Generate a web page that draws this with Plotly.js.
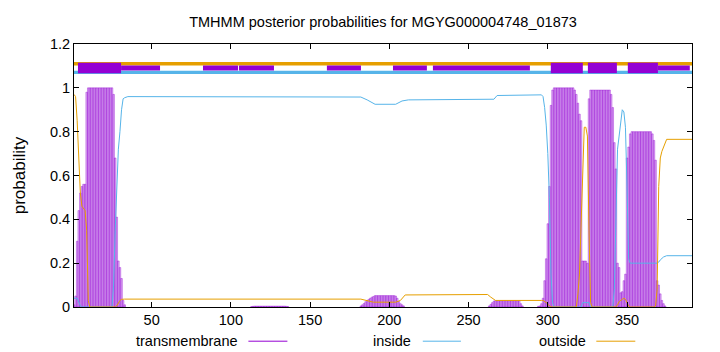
<!DOCTYPE html>
<html><head><meta charset="utf-8">
<script src="https://cdn.plot.ly/plotly-3.0.1.min.js"></script>
<style>html,body{margin:0;padding:0;background:#fff}#chart{width:720px;height:352px}</style>
</head><body><div id="chart"></div>
<script>
const titleText = "TMHMM posterior probabilities for MGYG000004748_01873";
const yAxisLabel = "probability";
const legendNames = ["transmembrane", "inside", "outside"];
const xRange = [1, 391];
const xTickVals = [50, 100, 150, 200, 250, 300, 350];
const yTickVals = [0, 0.2, 0.4, 0.6, 0.8, 1, 1.2];

// transmembrane posterior (impulses), per residue, in regions where it is non-zero
const tmRegionStart = [1, 113, 182, 263, 294];
const tmRegion1 = [0.01,0.05,0.30,0.44,0.52,0.55,0.56,0.56,0.98,1,1,1,1,1,1,1,1,1,1,1,1,1,1,1,1,0.97,0.68,0.41,0.21,0.18,0.13,0.03,0.01];
const tmRegion2 = [0.002,0.003,0.004,0.004,0.004,0.004,0.004,0.004,0.004,0.004,0.004,0.004,0.004,0.004,0.004,0.004,0.004,0.004,0.004,0.004,0.004,0.004,0.003,0.002];
const tmRegion3 = [0.005,0.01,0.016,0.024,0.03,0.035,0.04,0.045,0.048,0.052,0.052,0.052,0.052,0.052,0.052,0.052,0.052,0.052,0.052,0.052,0.052,0.052,0.05,0.04,0.025,0.015,0.01,0.005];
const tmRegion4 = [0.005,0.012,0.02,0.027,0.029,0.029,0.029,0.029,0.029,0.029,0.029,0.029,0.029,0.029,0.029,0.029,0.029,0.029,0.029,0.029,0.015,0.005];
const tmRegion5 = [0.003,0.005,0.015,0.04,0.12,0.22,0.38,0.55,0.92,0.99,1,1,1,1,1,1,1,1,1,1,1,1,1,0.99,0.97,0.93,0.88,0.85,0.21,0.21,0.21,0.20,0.95,0.99,0.99,0.99,0.99,0.99,0.99,0.99,0.99,0.99,0.99,0.99,0.99,0.99,0.97,0.91,0.75,0.63,0.20,0.18,0.065,0.07,0.12,0.15,0.68,0.73,0.79,0.80,0.80,0.80,0.80,0.80,0.80,0.80,0.80,0.80,0.80,0.80,0.80,0.80,0.79,0.76,0.67,0.12,0.10,0.06,0.03,0.015,0.005];
const tmRegions = [tmRegion1, tmRegion2, tmRegion3, tmRegion4, tmRegion5];

// inside posterior (line vertices)
const insideX = [1,3,5,6,25,26,27,28,29,30,31,32,33,35,120,182,186,191,204,208,212,262,266,268,296,297,298,299,300,301,302,303,304,321,322,326,327,341,342,343,344,345,346,347,348,349,350,351,352,369,370,371,373,375,391];
const insideY = [0.04,0.04,0.005,0,0,0.1,0.35,0.55,0.72,0.80,0.90,0.95,0.955,0.96,0.96,0.958,0.945,0.925,0.925,0.94,0.945,0.945,0.948,0.965,0.968,0.96,0.91,0.83,0.70,0.50,0.15,0.02,0,0,0.02,0.02,0,0,0.08,0.40,0.72,0.78,0.85,0.90,0.89,0.82,0.55,0.22,0.20,0.20,0.205,0.215,0.228,0.234,0.234];

// outside posterior (line vertices)
const outsideX = [1,2,3,4,5,6,7,8,9,10,11,27,28,29,30,31,33,182,185,190,204,207,210,262,264,266,267,296,297,299,301,302,318,319,320,321,322,323,324,325,326,327,328,343,344,345,347,348,349,350,351,352,367,368,369,370,371,372,373,374,375,391];
const outsideY = [0.97,0.96,0.85,0.70,0.52,0.46,0.45,0.44,0.35,0.03,0,0,0.005,0.02,0.03,0.035,0.036,0.036,0.03,0.022,0.022,0.03,0.055,0.057,0.045,0.032,0.03,0.03,0.03,0.02,0.005,0,0,0.06,0.15,0.40,0.60,0.82,0.82,0.78,0.35,0.02,0,0,0.01,0.025,0.035,0.04,0.035,0.02,0.005,0,0,0.005,0.08,0.55,0.68,0.71,0.73,0.75,0.765,0.765];

// topology annotation strip at the top
const outsideStripX = [1, 391];
const insideStripX = [1, 391];
const thinSegStart = [30.7, 82.4, 105.1, 160.6, 202.3, 227.5, 369.5];
const thinSegEnd   = [55.3, 104.5, 127.2, 182.1, 223.7, 288.7, 389.6];
const tmSegStart = [3.5, 301.9, 325.3, 350.5];
const tmSegEnd   = [30.7, 322.1, 343.6, 369.5];

const PURPLE = '#9400D3', BLUE = '#56B4E9', ORANGE = '#E69F00';

const tmX = [], tmY = [];
tmRegions.forEach((vals, k) => vals.forEach((v, i) => { tmX.push(tmRegionStart[k] + i); tmY.push(v); }));

function segments(starts, ends, level) {
  const x = [], y = [];
  starts.forEach((s, i) => { x.push(s, ends[i], null); y.push(level, level, null); });
  return {x, y};
}
const thin = segments(thinSegStart, thinSegEnd, 1.0905);
const thick = segments(tmSegStart, tmSegEnd, 1.091);

const traces = [
  {type:'bar', x:tmX, y:tmY, width:1, name:legendNames[0],
   marker:{color:'rgba(160,40,220,0.38)', line:{color:'rgba(148,0,211,0.85)', width:0.45}}, hoverinfo:'x+y'},
  {type:'scatter', mode:'lines', x:insideX, y:insideY, name:legendNames[1], line:{color:BLUE, width:1}},
  {type:'scatter', mode:'lines', x:outsideX, y:outsideY, name:legendNames[2], line:{color:ORANGE, width:1}},
  {type:'scatter', mode:'lines', x:outsideStripX, y:[1.1095,1.1095], line:{color:ORANGE, width:3.5}, hoverinfo:'skip'},
  {type:'scatter', mode:'lines', x:insideStripX, y:[1.0705,1.0705], line:{color:BLUE, width:3.2}, hoverinfo:'skip'},
  {type:'scatter', mode:'lines', x:thin.x, y:thin.y, line:{color:PURPLE, width:5}, connectgaps:false, hoverinfo:'skip'},
  {type:'scatter', mode:'lines', x:thick.x, y:thick.y, line:{color:PURPLE, width:10.5}, connectgaps:false, hoverinfo:'skip'}
];

const legendY = -0.13;
const L = 74, W = 618;
const px = v => (v - L) / W;
const legendText = [{x:240, name:legendNames[0]}, {x:413, name:legendNames[1]}, {x:587.5, name:legendNames[2]}];
const legendLine = [{a:248.4, b:287.4, c:PURPLE}, {a:422.8, b:460.9, c:BLUE}, {a:596.3, b:635.3, c:ORANGE}];

const layout = {
  width:720, height:352,
  margin:{l:74, r:28, t:44, b:45, pad:0},
  paper_bgcolor:'#fff', plot_bgcolor:'#fff',
  font:{family:'"Liberation Sans", Arial, sans-serif', size:14.5, color:'#000'},
  title:{text:titleText, x:0.5, xref:'paper', xanchor:'center', y:1-22/352, yref:'container', yanchor:'middle', font:{size:14.5}},
  showlegend:false,
  bargap:0,
  xaxis:{range:xRange, tickvals:xTickVals, ticks:'inside', ticklen:5, tickcolor:'#000', tickwidth:1,
         showline:true, linecolor:'#000', linewidth:1, mirror:'ticks', showgrid:false, zeroline:false},
  yaxis:{range:[0,1.2], tickvals:yTickVals, ticks:'inside', ticklen:5, tickcolor:'#000', tickwidth:1,
         showline:true, linecolor:'#000', linewidth:1, mirror:'ticks', showgrid:false, zeroline:false,
         title:{text:yAxisLabel, standoff:19}},
  annotations: legendText.map(t => ({text:t.name, xref:'paper', yref:'paper', x:px(t.x), y:legendY, xanchor:'right', yanchor:'middle', showarrow:false})),
  shapes: legendLine.map(l => ({type:'line', xref:'paper', yref:'paper', x0:px(l.a), x1:px(l.b), y0:legendY, y1:legendY, line:{color:l.c, width:1}}))
};

Plotly.newPlot('chart', traces, layout, {displayModeBar:false, staticPlot:true});
</script></body></html>
